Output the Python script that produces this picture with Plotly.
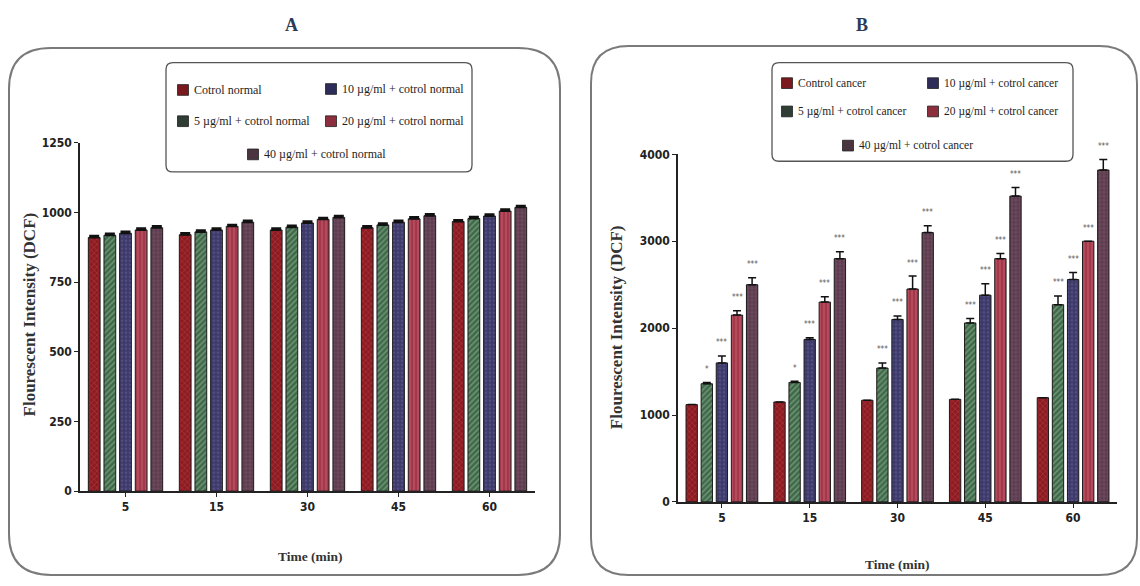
import plotly.graph_objects as go

W, H = 1140, 586

# ---------------- data ----------------
times = ["5", "15", "30", "45", "60"]

series_a = ["Cotrol normal", "5 µg/ml + cotrol normal", "10 µg/ml + cotrol normal",
            "20 µg/ml + cotrol normal", "40 µg/ml + cotrol normal"]
control_normal = [910, 920, 937, 945, 967]
normal_5 = [918, 930, 947, 955, 978]
normal_10 = [925, 937, 962, 965, 987]
normal_20 = [937, 950, 975, 977, 1005]
normal_40 = [945, 965, 982, 988, 1018]
err_a = [[6, 6, 6, 6, 6]] * 5

series_b = ["Control cancer", "5 µg/ml + cotrol cancer", "10 µg/ml + cotrol cancer",
            "20 µg/ml + cotrol cancer", "40 µg/ml + cotrol cancer"]
control_cancer = [1120, 1150, 1170, 1180, 1200]
cancer_5 = [1360, 1375, 1540, 2060, 2270]
cancer_10 = [1600, 1870, 2100, 2380, 2560]
cancer_20 = [2150, 2300, 2450, 2800, 3000]
cancer_40 = [2500, 2800, 3100, 3520, 3820]
err_control_cancer = [0, 0, 0, 0, 0]
err_cancer_5 = [15, 15, 60, 50, 100]
err_cancer_10 = [80, 20, 40, 130, 80]
err_cancer_20 = [50, 60, 150, 60, 0]
err_cancer_40 = [80, 80, 80, 100, 120]
sig_control = ["", "", "", "", ""]
sig_5 = ["*", "*", "***", "***", "***"]
sig_10 = ["***", "***", "***", "***", "***"]
sig_20 = ["***", "***", "***", "***", "***"]
sig_40 = ["***", "***", "***", "***", "***"]

yticks_a = [0, 250, 500, 750, 1000, 1250]
yticks_b = [0, 1000, 2000, 3000, 4000]

# ---------------- styles ----------------
fill_colors = ["#8c1c22", "#3f6a49", "#3d3969", "#a3384a", "#5c3b4d"]
pattern_shapes = ["x", "/", ".", "|", "+"]
pattern_fg = ["#c0474d", "#a9c2ab", "#6a66a0", "#d0707f", "#8a6679"]
swatch_colors = ["#7a1a1e", "#2f3d34", "#2e2c58", "#8c2e3e", "#4a3440"]

SERIF = "Liberation Serif, Times New Roman, serif"
SANS_N = "Liberation Sans Narrow, DejaVu Sans Condensed, Liberation Sans, Arial, sans-serif"

def px_x(x):
    return x / W

def px_y(y):
    return 1 - y / H

bargap = 0.14
bargroupgap = 0.25
slot = (1 - bargap) / 5

fig = go.Figure()

xidx = list(range(len(times)))

vals_a = [control_normal, normal_5, normal_10, normal_20, normal_40]
vals_b = [control_cancer, cancer_5, cancer_10, cancer_20, cancer_40]
errs_b = [err_control_cancer, err_cancer_5, err_cancer_10, err_cancer_20, err_cancer_40]
sigs_b = [sig_control, sig_5, sig_10, sig_20, sig_40]

for k in range(5):
    fig.add_trace(go.Bar(
        x=xidx, y=vals_a[k], name=series_a[k], xaxis="x", yaxis="y",
        offsetgroup=str(k),
        marker=dict(color=fill_colors[k], line=dict(color="#1a1a1a", width=1),
                    pattern=dict(shape=pattern_shapes[k], fgcolor=pattern_fg[k],
                                 size=4, solidity=0.35)),
        error_y=dict(type="data", array=err_a[k], arrayminus=[0] * 5, symmetric=False,
                     color="#111111", thickness=2, width=5),
        showlegend=False,
    ))

for k in range(5):
    fig.add_trace(go.Bar(
        x=xidx, y=vals_b[k], name=series_b[k], xaxis="x2", yaxis="y2",
        offsetgroup=str(k),
        marker=dict(color=fill_colors[k], line=dict(color="#1a1a1a", width=1),
                    pattern=dict(shape=pattern_shapes[k], fgcolor=pattern_fg[k],
                                 size=4, solidity=0.35)),
        error_y=dict(type="data", array=errs_b[k], arrayminus=[0] * 5, symmetric=False,
                     color="#111111", thickness=1.5, width=4),
        showlegend=False,
    ))

annotations = []
# significance marks
for k in range(5):
    for i in range(5):
        if sigs_b[k][i]:
            annotations.append(dict(
                x=i + (k - 2) * slot, y=vals_b[k][i] + errs_b[k][i], xref="x2", yref="y2",
                text=sigs_b[k][i], showarrow=False, yshift=13, yanchor="middle",
                font=dict(family=SANS_N, size=8, color="#555555")))

# panel titles
annotations.append(dict(x=px_x(291), y=px_y(18), xref="paper", yref="paper", text="<b>A</b>",
                        showarrow=False, xanchor="center", yanchor="middle",
                        font=dict(family=SERIF, size=18, color="#2c3b58")))
annotations.append(dict(x=px_x(862), y=px_y(18), xref="paper", yref="paper", text="<b>B</b>",
                        showarrow=False, xanchor="center", yanchor="middle",
                        font=dict(family=SERIF, size=18, color="#2c3b58")))

# axis titles
for (xp, yp) in [(29, 315), (616, 328)]:
    annotations.append(dict(x=px_x(xp), y=px_y(yp), xref="paper", yref="paper",
                            text="<b>Flourescent Intensity (DCF)</b>", textangle=-90,
                            showarrow=False, xanchor="center", yanchor="middle",
                            font=dict(family=SERIF, size=17, color="#333333")))
for (xp, yp) in [(310, 563), (897, 571)]:
    annotations.append(dict(x=px_x(xp), y=px_y(yp), xref="paper", yref="paper",
                            text="<b>Time (min)</b>", showarrow=False,
                            xanchor="center", yanchor="middle",
                            font=dict(family=SERIF, size=13.5, color="#333333")))

shapes = []

def rounded_rect(x0, y0, x1, y1, r, color, width):
    p = (f"M {px_x(x0 + r)},{px_y(y0)} L {px_x(x1 - r)},{px_y(y0)} "
         f"Q {px_x(x1)},{px_y(y0)} {px_x(x1)},{px_y(y0 + r)} "
         f"L {px_x(x1)},{px_y(y1 - r)} Q {px_x(x1)},{px_y(y1)} {px_x(x1 - r)},{px_y(y1)} "
         f"L {px_x(x0 + r)},{px_y(y1)} Q {px_x(x0)},{px_y(y1)} {px_x(x0)},{px_y(y1 - r)} "
         f"L {px_x(x0)},{px_y(y0 + r)} Q {px_x(x0)},{px_y(y0)} {px_x(x0 + r)},{px_y(y0)} Z")
    return dict(type="path", path=p, xref="paper", yref="paper",
                line=dict(color=color, width=width), fillcolor="rgba(0,0,0,0)", layer="below")

shapes.append(rounded_rect(9, 42, 560, 582, 42, "#7a7a7a", 2))
shapes.append(rounded_rect(591, 40, 1137, 582, 38, "#7a7a7a", 2))
shapes.append(rounded_rect(166, 57, 472, 169, 7, "#555555", 1.3))
shapes.append(rounded_rect(772, 57, 1073, 158, 7, "#555555", 1.3))

# manual legends (2 columns + centered last row)
legend_a_pos = [(183, 85), (183, 117), (331, 84), (331, 117), (253, 151)]
legend_b_pos = [(787, 78), (787, 107), (933, 78), (933, 107), (848, 142)]

def add_legend(labels, positions, size):
    for k, (sx, sy) in enumerate(positions):
        s = 5.5
        shapes.append(dict(type="rect", xref="paper", yref="paper",
                           x0=px_x(sx - s), x1=px_x(sx + s), y0=px_y(sy - s), y1=px_y(sy + s),
                           fillcolor=swatch_colors[k], line=dict(color="#222222", width=0.8)))
        annotations.append(dict(x=px_x(sx + 9), y=px_y(sy), xref="paper", yref="paper",
                                text=labels[k], showarrow=False, xanchor="left", yanchor="middle",
                                font=dict(family=SERIF, size=size, color="#1e1e1e")))

add_legend(series_a, legend_a_pos, 12)
add_legend(series_b, legend_b_pos, 11.5)

axis_common = dict(showline=True, linecolor="#222222", linewidth=1.5, ticks="outside",
                   ticklen=4, tickcolor="#222222", showgrid=False, zeroline=False,
                   tickfont=dict(family=SANS_N, size=12, color="#222222", weight="bold"))

fig.update_layout(
    width=W, height=H, autosize=False,
    margin=dict(l=0, r=0, t=0, b=0),
    paper_bgcolor="white", plot_bgcolor="white",
    barmode="group", bargap=bargap, bargroupgap=bargroupgap,
    xaxis=dict(domain=[px_x(80), px_x(535)], anchor="y", range=[-0.5, 4.5],
               tickvals=xidx, ticktext=times, **axis_common),
    yaxis=dict(domain=[px_y(496), px_y(139)], anchor="x", range=[0, 1250],
               tickvals=yticks_a, **axis_common),
    xaxis2=dict(domain=[px_x(678), px_x(1117)], anchor="y2", range=[-0.5, 4.5],
                tickvals=xidx, ticktext=times, **axis_common),
    yaxis2=dict(domain=[px_y(507), px_y(151)], anchor="x2", range=[0, 4000],
                tickvals=yticks_b, **axis_common),
    annotations=annotations,
    shapes=shapes,
    showlegend=False,
)

fig.write_html("out.html",
               config={"displayModeBar": False, "responsive": False},
               default_width=f"{W}px", default_height=f"{H}px",
               post_script="document.body.style.margin='0px';document.body.style.overflow='hidden';")
